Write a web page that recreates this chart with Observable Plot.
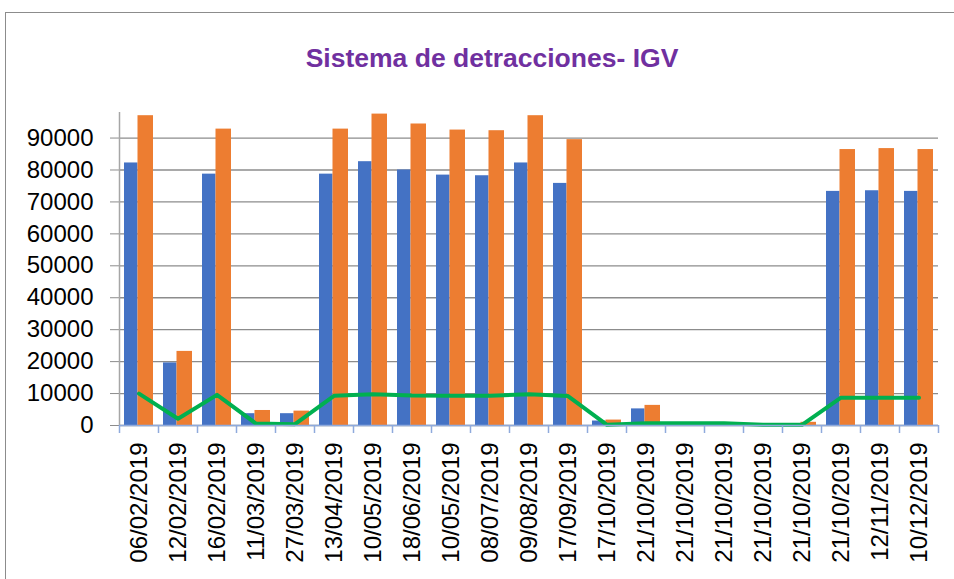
<!DOCTYPE html>
<html>
<head>
<meta charset="utf-8">
<script src="https://cdn.jsdelivr.net/npm/d3@7"></script>
<script src="https://cdn.jsdelivr.net/npm/@observablehq/plot@0.6"></script>
<style>
  html, body { margin: 0; padding: 0; background: #fff; overflow: hidden; }
  #wrap { position: relative; width: 954px; height: 579px; }
  #frame { position: absolute; left: 5px; top: 12px; width: 1000px; height: 700px; border: 1.5px solid #8c8c8c; pointer-events: none; box-sizing: border-box; }
  #title { position: absolute; left: 0; top: 43px; width: 984px; text-align: center; font-family: "Liberation Sans", Arial, sans-serif; font-weight: bold; font-size: 26.5px; color: #7030A0; }
  #chart { position: absolute; left: 0; top: 0; }
  #chart svg { background: transparent; }
</style>
</head>
<body>
<div id="wrap">
  <div id="chart"></div>
  <div id="frame"></div>
  <div id="title">Sistema de detracciones- IGV</div>
</div>
<script>
const labels = ["06/02/2019","12/02/2019","16/02/2019","11/03/2019","27/03/2019","13/04/2019","10/05/2019","18/06/2019","10/05/2019","08/07/2019","09/08/2019","17/09/2019","17/10/2019","21/10/2019","21/10/2019","21/10/2019","21/10/2019","21/10/2019","21/10/2019","12/11/2019","10/12/2019"];
const blueValues = [82200, 19600, 78700, 3700, 3700, 78700, 82600, 80000, 78400, 78200, 82200, 75800, 1400, 5200, 600, 600, 100, 300, 73300, 73500, 73300];
const orangeValues = [97000, 23200, 92800, 4700, 4500, 92800, 97500, 94400, 92500, 92300, 97000, 89500, 1700, 6300, 700, 900, 150, 1000, 86400, 86700, 86400];
const greenValues = [10000, 2100, 9600, 600, 400, 9300, 9800, 9400, 9300, 9300, 9800, 9200, 200, 700, 700, 700, 200, 200, 8700, 8700, 8700];
const yTicks = [0, 10000, 20000, 30000, 40000, 50000, 60000, 70000, 80000, 90000];

const idx = labels.map((_, i) => i);
const rows = idx.map(i => ({i, x1: i - 0.5, x2: i + 0.5, blue: blueValues[i], orange: orangeValues[i], green: greenValues[i]}));
const bounds = d3.range(-0.5, labels.length, 1);

const font = "Liberation Sans, Arial, sans-serif";

const chart = Plot.plot({
  width: 954,
  height: 579,
  marginLeft: 119,
  marginRight: 16,
  marginTop: 112,
  marginBottom: 154,
  style: {fontFamily: font, background: "transparent", color: "#000"},
  x: {type: "linear", domain: [-0.5, labels.length - 0.5]},
  y: {domain: [0, 98000]},
  marks: [
    Plot.gridY(yTicks, {stroke: "#8c8c8c", strokeOpacity: 1, strokeWidth: 1.3}),
    Plot.axisY(yTicks, {tickSize: 9, tickPadding: 17, stroke: "#8c8c8c", fontSize: 24, tickFormat: d3.format("d"), label: null, fill: "#000"}),
    Plot.ruleX([-0.5], {stroke: "#a6a6a6", strokeWidth: 1.5}),
    Plot.rectY(rows, {x1: "x1", x2: "x2", y: "blue", fill: "#4472C4", insetLeft: 5, insetRight: 20.5}),
    Plot.rectY(rows, {x1: "x1", x2: "x2", y: "orange", fill: "#ED7D31", insetLeft: 18.5, insetRight: 5}),
    Plot.lineY(rows, {x: "i", y: "green", stroke: "#00B050", strokeWidth: 4, strokeLinejoin: "round"}),
    Plot.ruleY([0], {stroke: "#8faadc", strokeWidth: 1.5}),
    Plot.axisX(bounds, {tickSize: 8, stroke: "#8faadc", strokeWidth: 1.5, tickFormat: () => "", label: null}),
    Plot.axisX(idx, {tickSize: 0, tickPadding: 17, tickRotate: -90, fontSize: 24, tickFormat: i => labels[i], label: null, fill: "#000"})
  ]
});
document.getElementById("chart").appendChild(chart);
</script>
</body>
</html>
